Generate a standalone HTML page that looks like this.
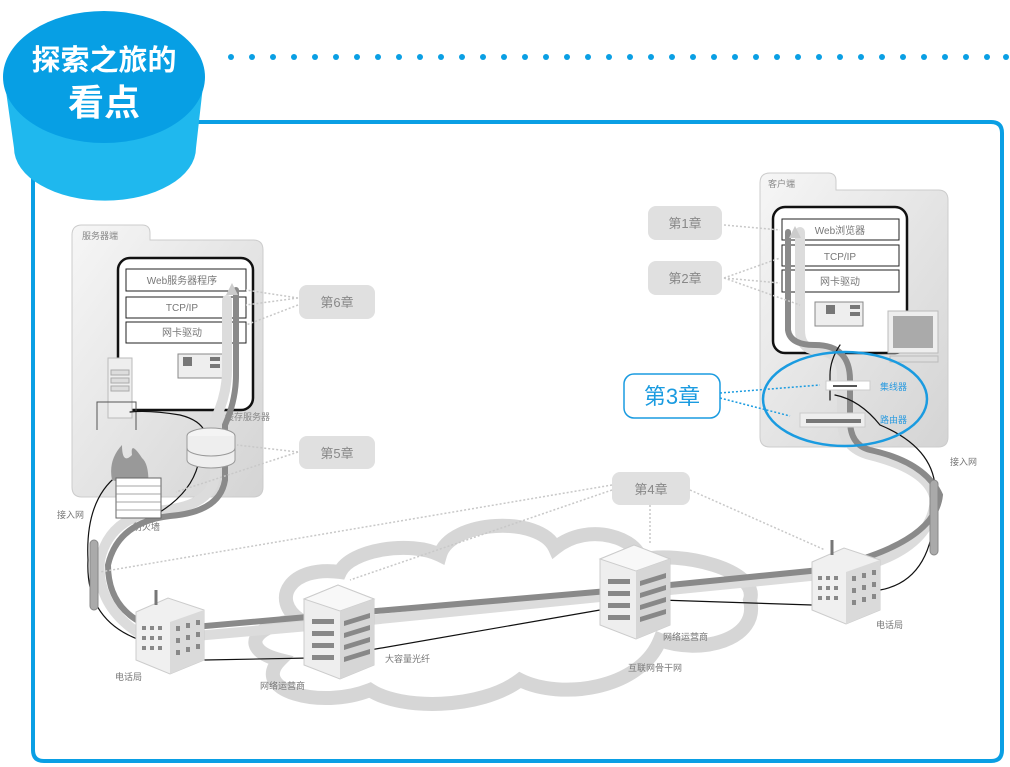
<!DOCTYPE html>
<html><head><meta charset="utf-8"><style>
html,body{margin:0;padding:0;background:#fff}
svg{display:block}
text{font-family:"Liberation Sans","Noto Sans CJK SC",sans-serif}
</style></head><body>
<svg width="1010" height="767" viewBox="0 0 1010 767" xmlns="http://www.w3.org/2000/svg">
<defs>
<linearGradient id="box" x1="0" y1="0" x2="1" y2="1"><stop offset="0" stop-color="#f6f6f6"/><stop offset="1" stop-color="#d4d4d4"/></linearGradient>
<g id="tower">
<polygon points="0,14 34,0 70,14 70,80 36,94 0,80" fill="#eee" stroke="#ccc"/>
<polygon points="0,14 34,0 70,14 36,26" fill="#f8f8f8" stroke="#ccc"/>
<polygon points="36,26 70,14 70,80 36,94" fill="#d6d6d6"/>
<g fill="#888"><rect x="8" y="34" width="22" height="5"/><rect x="8" y="46" width="22" height="5"/><rect x="8" y="58" width="22" height="5"/><rect x="8" y="70" width="22" height="5"/>
<polygon points="40,36 66,28 66,33 40,41"/><polygon points="40,48 66,40 66,45 40,53"/><polygon points="40,60 66,52 66,57 40,65"/><polygon points="40,72 66,64 66,69 40,77"/></g>
</g>
<g id="office">
<polygon points="0,14 32,0 68,12 68,62 34,76 0,62" fill="#f0f0f0" stroke="#ccc"/>
<polygon points="34,24 68,12 68,62 34,76" fill="#dadada"/>
<line x1="20" y1="7" x2="20" y2="-8" stroke="#777" stroke-width="3"/>
<g fill="#888"><rect x="6" y="28" width="4" height="4"/><rect x="14" y="28" width="4" height="4"/><rect x="22" y="28" width="4" height="4"/>
<rect x="6" y="38" width="4" height="4"/><rect x="14" y="38" width="4" height="4"/><rect x="22" y="38" width="4" height="4"/>
<rect x="6" y="48" width="4" height="4"/><rect x="14" y="48" width="4" height="4"/><rect x="22" y="48" width="4" height="4"/>
<rect x="40" y="28" width="4" height="5"/><rect x="50" y="25" width="4" height="5"/><rect x="60" y="22" width="4" height="5"/>
<rect x="40" y="40" width="4" height="5"/><rect x="50" y="37" width="4" height="5"/><rect x="60" y="34" width="4" height="5"/>
<rect x="40" y="52" width="4" height="5"/><rect x="50" y="49" width="4" height="5"/><rect x="60" y="46" width="4" height="5"/></g>
</g>
</defs>

<!-- frame -->
<path d="M198,122 H991 Q1002,122 1002,133 V750 Q1002,761 991,761 H44 Q33,761 33,750 V170" fill="none" stroke="#0a9fe4" stroke-width="4"/>
<g fill="#0a9fe4">
<circle cx="231" cy="57" r="3"/><circle cx="252" cy="57" r="3"/><circle cx="273" cy="57" r="3"/><circle cx="294" cy="57" r="3"/><circle cx="315" cy="57" r="3"/><circle cx="336" cy="57" r="3"/><circle cx="357" cy="57" r="3"/><circle cx="378" cy="57" r="3"/><circle cx="399" cy="57" r="3"/><circle cx="420" cy="57" r="3"/><circle cx="441" cy="57" r="3"/><circle cx="462" cy="57" r="3"/><circle cx="483" cy="57" r="3"/><circle cx="504" cy="57" r="3"/><circle cx="525" cy="57" r="3"/><circle cx="546" cy="57" r="3"/><circle cx="567" cy="57" r="3"/><circle cx="588" cy="57" r="3"/><circle cx="609" cy="57" r="3"/><circle cx="630" cy="57" r="3"/><circle cx="651" cy="57" r="3"/><circle cx="672" cy="57" r="3"/><circle cx="693" cy="57" r="3"/><circle cx="714" cy="57" r="3"/><circle cx="735" cy="57" r="3"/><circle cx="756" cy="57" r="3"/><circle cx="777" cy="57" r="3"/><circle cx="798" cy="57" r="3"/><circle cx="819" cy="57" r="3"/><circle cx="840" cy="57" r="3"/><circle cx="861" cy="57" r="3"/><circle cx="882" cy="57" r="3"/><circle cx="903" cy="57" r="3"/><circle cx="924" cy="57" r="3"/><circle cx="945" cy="57" r="3"/><circle cx="966" cy="57" r="3"/><circle cx="987" cy="57" r="3"/><circle cx="1006" cy="57" r="3"/>
</g>
<!-- cylinder -->
<path d="M4,77 L14,148 A90,52 0 0 0 196,148 L204,77 Z" fill="#1fb8ee"/>
<ellipse cx="104" cy="77" rx="101" ry="66" fill="#079fe4"/>
<text x="104" y="70" text-anchor="middle" font-size="29" font-weight="bold" fill="#fff">探索之旅的</text>
<text x="104" y="115" text-anchor="middle" font-size="36" font-weight="bold" fill="#fff">看点</text>

<!-- server folder -->
<path d="M72,235 Q72,225 82,225 H142 Q150,225 150,233 V240 H253 Q263,240 263,250 V487 Q263,497 253,497 H82 Q72,497 72,487 Z" fill="url(#box)" stroke="#ccc"/>
<text x="82" y="239" font-size="9" fill="#888">服务器端</text>
<rect x="118" y="258" width="135" height="152" rx="12" fill="#fff" stroke="#111" stroke-width="2.5"/>
<g font-size="10" fill="#777" text-anchor="middle">
<rect x="126" y="269" width="120" height="22" fill="#fff" stroke="#222"/><text x="182" y="284">Web服务器程序</text>
<rect x="126" y="297" width="120" height="21" fill="#fff" stroke="#222"/><text x="182" y="311">TCP/IP</text>
<rect x="126" y="322" width="120" height="21" fill="#fff" stroke="#222"/><text x="182" y="336">网卡驱动</text>
</g>
<rect x="178" y="354" width="46" height="24" fill="#eee" stroke="#888"/><rect x="183" y="357" width="9" height="9" fill="#777"/><rect x="210" y="357" width="10" height="4" fill="#777"/><rect x="210" y="364" width="10" height="4" fill="#777"/>
<rect x="108" y="358" width="24" height="60" fill="#eee" stroke="#bbb"/>
<g fill="#ddd" stroke="#aaa"><rect x="111" y="370" width="18" height="5"/><rect x="111" y="378" width="18" height="5"/><rect x="111" y="386" width="18" height="5"/></g>
<path d="M97,430 V402 H136 V430" fill="none" stroke="#555"/>
<text x="225" y="420" font-size="9" fill="#888">缓存服务器</text>
<text x="133" y="530" font-size="9" fill="#777">防火墙</text>
<text x="57" y="518" font-size="9" fill="#777">接入网</text>

<!-- client folder -->
<path d="M760,183 Q760,173 770,173 H828 Q836,173 836,181 V190 H938 Q948,190 948,200 V437 Q948,447 938,447 H770 Q760,447 760,437 Z" fill="url(#box)" stroke="#ccc"/>
<text x="768" y="187" font-size="9" fill="#888">客户端</text>
<rect x="773" y="207" width="134" height="146" rx="12" fill="#fff" stroke="#111" stroke-width="2.5"/>
<g font-size="10" fill="#777" text-anchor="middle">
<rect x="782" y="219" width="117" height="21" fill="#fff" stroke="#222"/><text x="840" y="234">Web浏览器</text>
<rect x="782" y="245" width="117" height="21" fill="#fff" stroke="#222"/><text x="840" y="260">TCP/IP</text>
<rect x="782" y="270" width="117" height="22" fill="#fff" stroke="#222"/><text x="840" y="285">网卡驱动</text>
</g>
<rect x="815" y="302" width="48" height="24" fill="#eee" stroke="#888"/><rect x="826" y="305" width="9" height="9" fill="#777"/><rect x="850" y="305" width="10" height="4" fill="#777"/><rect x="850" y="312" width="10" height="4" fill="#777"/>
<rect x="888" y="311" width="50" height="42" fill="#eee" stroke="#bbb"/><rect x="893" y="316" width="40" height="32" fill="#aaa"/>
<rect x="890" y="356" width="48" height="6" fill="#ddd" stroke="#bbb"/>
<text x="880" y="390" font-size="9" fill="#2a9be0">集线器</text>
<text x="880" y="423" font-size="9" fill="#2a9be0">路由器</text>
<text x="950" y="465" font-size="9" fill="#777">接入网</text>

<!-- cloud -->
<path d="M300,620 C270,600 290,565 340,572 C350,550 410,540 440,555 C450,520 540,515 555,548 C590,520 640,540 640,560 C680,550 760,570 750,600 C760,640 700,655 660,640 C640,690 560,700 520,680 C480,710 400,710 370,690 C320,710 250,690 280,660 C240,650 250,625 300,620 Z" fill="none" stroke="#d6d6d6" stroke-width="14"/>

<!-- network lines -->
<g fill="none" stroke-linecap="round">
<path d="M227,300 V370 Q227,395 215,420 V475 Q212,505 165,510 Q110,515 100,560 Q95,610 150,640 L320,625 L620,595 L820,575 Q930,560 935,500 Q930,470 870,455 Q842,448 842,420 V375 Q842,352 815,350 Q800,348 800,330 V232" stroke="#dcdcdc" stroke-width="10"/>
<path d="M236,290 V375 Q236,400 225,425 V480 Q220,512 170,516 Q118,522 108,565 Q108,615 160,630 L330,615 L620,590 L820,570 Q935,545 940,495 Q925,462 870,450 Q850,445 850,420 V380 Q850,345 815,345 Q790,345 788,330 V232" stroke="#8a8a8a" stroke-width="6"/>
<path d="M118,475 Q85,500 88,560 Q85,620 140,640 M205,660 L310,658 M370,650 L600,610 M660,600 L812,605 M880,590 Q935,580 935,500 Q940,450 880,425 Q860,400 835,395" stroke="#111" stroke-width="1.2"/>
<path d="M130,412 Q150,410 180,415 Q200,420 205,432" stroke="#111" stroke-width="1.2"/>
<path d="M155,515 Q190,495 198,465" stroke="#111" stroke-width="1.2"/>
<path d="M840,345 Q830,360 830,375 V400" stroke="#111" stroke-width="1.2"/>
</g>
<polygon points="795,226 789,238 801,238" fill="#ccc"/>
<polygon points="232,283 226,295 238,295" fill="#ccc"/>
<!-- cache -->
<ellipse cx="211" cy="436" rx="24" ry="8" fill="#f4f4f4" stroke="#999"/>
<path d="M187,436 V460 A24,8 0 0 0 235,460 V436" fill="#eee" stroke="#999"/>
<path d="M187,448 A24,8 0 0 0 235,448" fill="none" stroke="#999"/>
<!-- firewall -->
<path d="M112,480 Q108,460 122,445 Q122,465 132,455 Q130,440 142,458 Q150,465 148,490 Z" fill="#999"/>
<rect x="116" y="478" width="45" height="40" fill="#fff" stroke="#666"/>
<g stroke="#888" stroke-width="0.8"><line x1="116" y1="486" x2="161" y2="486"/><line x1="116" y1="494" x2="161" y2="494"/><line x1="116" y1="502" x2="161" y2="502"/><line x1="116" y1="510" x2="161" y2="510"/></g>
<!-- hub/router -->
<rect x="826" y="381" width="44" height="9" fill="#fff" stroke="#ccc"/><rect x="833" y="385" width="24" height="2" fill="#555"/>
<rect x="800" y="413" width="65" height="14" fill="#eee" stroke="#ccc"/><rect x="806" y="419" width="55" height="4" fill="#777"/>
<!-- poles -->
<rect x="90" y="540" width="8" height="70" rx="4" fill="#aaa" stroke="#888"/>
<rect x="930" y="480" width="8" height="75" rx="4" fill="#aaa" stroke="#888"/>

<!-- buildings -->
<use href="#office" x="136" y="598"/>
<use href="#office" x="812" y="548"/>
<use href="#tower" x="304" y="585"/>
<use href="#tower" x="600" y="545"/>
<g font-size="9" fill="#777">
<text x="115" y="680">电话局</text>
<text x="260" y="689">网络运营商</text>
<text x="385" y="662">大容量光纤</text>
<text x="663" y="640">网络运营商</text>
<text x="628" y="671">互联网骨干网</text>
<text x="876" y="628">电话局</text>
</g>

<ellipse cx="845" cy="399" rx="82" ry="47" fill="none" stroke="#1a9be0" stroke-width="2.5"/>

<g font-size="13" fill="#888" text-anchor="middle">
<rect x="648" y="206" width="74" height="34" rx="8" fill="#e0e0e0"/><text x="685" y="228">第1章</text>
<rect x="648" y="261" width="74" height="34" rx="8" fill="#e0e0e0"/><text x="685" y="283">第2章</text>
<rect x="612" y="472" width="78" height="33" rx="8" fill="#e0e0e0"/><text x="651" y="494">第4章</text>
<rect x="299" y="436" width="76" height="33" rx="8" fill="#e0e0e0"/><text x="337" y="458">第5章</text>
<rect x="299" y="285" width="76" height="34" rx="8" fill="#e0e0e0"/><text x="337" y="307">第6章</text>
</g>
<rect x="624" y="374" width="96" height="44" rx="10" fill="#fff" stroke="#1a9be0" stroke-width="1.5"/>
<text x="672" y="404" text-anchor="middle" font-size="22" fill="#1a9be0">第3章</text>

<g fill="none" stroke="#c8c8c8" stroke-width="1.5" stroke-dasharray="2,2">
<path d="M724,225 L780,230 M724,278 L780,258 M724,278 L780,283 M724,278 L800,305"/>
<path d="M298,298 L246,290 M298,298 L246,305 M298,305 L246,325"/>
<path d="M298,452 L237,445 M298,452 L176,492"/>
<path d="M612,485 L100,572 M612,490 L350,580 M650,505 L650,545 M690,490 L825,550"/>
</g>
<g fill="none" stroke="#1a9be0" stroke-width="1.5" stroke-dasharray="2,2">
<path d="M720,393 L820,385 M720,398 L790,416"/>
</g>
</svg>
</body></html>
